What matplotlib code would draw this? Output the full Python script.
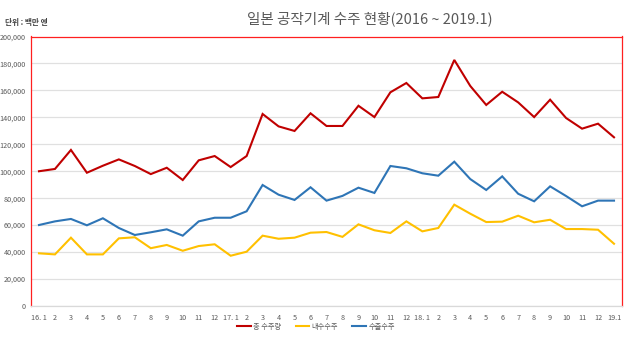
import matplotlib
matplotlib.use("Agg")
import matplotlib.pyplot as plt
from matplotlib.ticker import FuncFormatter

plt.rcParams['font.family'] = ['Noto Sans CJK KR', 'DejaVu Sans']

months = ["16. 1", "2", "3", "4", "5", "6", "7", "8", "9", "10", "11", "12",
          "17. 1", "2", "3", "4", "5", "6", "7", "8", "9", "10", "11", "12",
          "18. 1", "2", "3", "4", "5", "6", "7", "8", "9", "10", "11", "12",
          "19.1"]

total = [100000, 101700, 115800, 98900, 104100, 108800, 103900, 97900, 102600, 93500,
         108100, 111300, 103100, 111300, 142500, 133300, 129900, 143000, 133600, 133600,
         148600, 140200, 158600, 165500, 154100, 155100, 182600, 163300, 149200, 159000,
         151100, 140200, 153100, 139500, 131600, 135300, 125200]

domestic = [39100, 38300, 50700, 38300, 38300, 50200, 51000, 42900, 45300, 41000,
            44500, 45800, 37300, 40300, 52200, 49900, 50700, 54400, 54900, 51300,
            60600, 56200, 54200, 62800, 55400, 57900, 75200, 68500, 62300, 62600,
            67000, 62100, 64000, 57100, 57100, 56600, 46200]

export = [60100, 62800, 64600, 59900, 65100, 57900, 52700, 54700, 56900, 52200,
          62800, 65500, 65500, 70300, 89800, 82600, 78700, 88100, 78200, 81700,
          87800, 83900, 103900, 102200, 98500, 96700, 107100, 94200, 86100, 96200,
          83300, 77700, 88800, 81600, 74000, 78200, 78200]

series_names = ["총 수주량", "내수수주", "수출수주"]
colors = ["#C00000", "#FFC000", "#2E75B6"]

fig = plt.figure(figsize=(6.3, 3.42), dpi=100)
ax = fig.add_axes([31/630, 1-306/342, 591/630, (306-36.5)/342])

x = list(range(len(months)))
for vals, name, c in zip([total, domestic, export], series_names, colors):
    ax.plot(x, vals, color=c, lw=1.5, label=name, solid_joinstyle='miter')

ax.set_xlim(-0.5, len(months)-0.5)
ax.set_ylim(0, 200000)
ax.set_yticks(range(0, 200001, 20000))
ax.yaxis.set_major_formatter(FuncFormatter(lambda v, p: f"{int(v):,}"))
ax.set_xticks(x)
ax.set_xticklabels(months)
ax.tick_params(axis='both', length=0, labelsize=5.2, colors='#595959')
ax.tick_params(axis='x', pad=6)
ax.tick_params(axis='y', pad=4)
ax.grid(axis='y', color='#E0E0E0', lw=0.9)
ax.set_axisbelow(True)
for s in ['left', 'right', 'top']:
    ax.spines[s].set_color('#FF2020')
    ax.spines[s].set_linewidth(0.9)
ax.spines['bottom'].set_color('#D9D9D9')
ax.spines['bottom'].set_linewidth(0.9)

fig.text(370/630, 1-19/342, "일본 공작기계 수주 현황(2016 ~ 2019.1)", ha='center', va='center',
         fontsize=10.5, color='#595959')
fig.text(5/630, 1-22/342, "단위 : 백만 엔", ha='left', va='center', fontsize=5.5,
         color='#404040', fontweight='bold')

leg = fig.legend(loc='center', bbox_to_anchor=(316/630, 1-327/342), ncol=3, frameon=False,
                 fontsize=5.2, handlelength=1.9, handletextpad=0.3, columnspacing=2.0)
for t in leg.get_texts():
    t.set_color('#595959')

fig.savefig("out.png", dpi=100)
